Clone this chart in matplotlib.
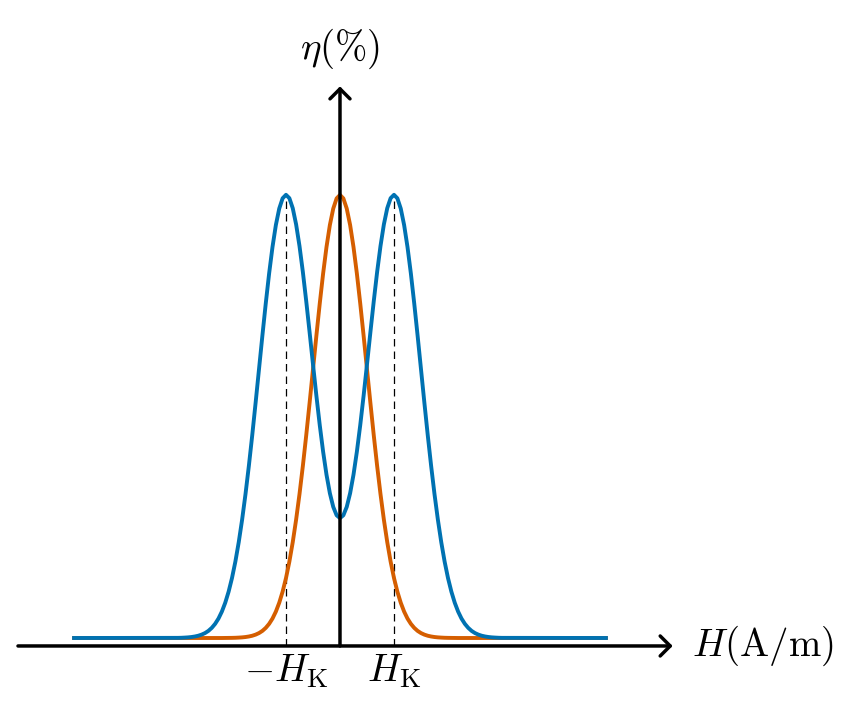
import matplotlib
matplotlib.use("Agg")
import matplotlib.pyplot as plt

plt.rcParams['mathtext.fontset'] = 'cm'

# H in units of H_K
h_values = [-4.96,
            -3.0, -2.9375, -2.875, -2.8125, -2.75, -2.6875, -2.625, -2.5625,
            -2.5, -2.4375, -2.375, -2.3125, -2.25, -2.1875, -2.125, -2.0625,
            -2.0, -1.9375, -1.875, -1.8125, -1.75, -1.6875, -1.625, -1.5625,
            -1.5, -1.4375, -1.375, -1.3125, -1.25, -1.1875, -1.125, -1.0625,
            -1.0, -0.9375, -0.875, -0.8125, -0.75, -0.6875, -0.625, -0.5625,
            -0.5, -0.4375, -0.375, -0.3125, -0.25, -0.1875, -0.125, -0.0625,
            0.0,
            0.0625, 0.125, 0.1875, 0.25, 0.3125, 0.375, 0.4375, 0.5,
            0.5625, 0.625, 0.6875, 0.75, 0.8125, 0.875, 0.9375, 1.0,
            1.0625, 1.125, 1.1875, 1.25, 1.3125, 1.375, 1.4375, 1.5,
            1.5625, 1.625, 1.6875, 1.75, 1.8125, 1.875, 1.9375, 2.0,
            2.0625, 2.125, 2.1875, 2.25, 2.3125, 2.375, 2.4375, 2.5,
            2.5625, 2.625, 2.6875, 2.75, 2.8125, 2.875, 2.9375, 3.0,
            4.96]

eta_split = [0.0,
             0.0003, 0.0005, 0.0009, 0.0014, 0.0022, 0.0034, 0.0051, 0.0076,
             0.0111, 0.0160, 0.0228, 0.0319, 0.0439, 0.0596, 0.0796, 0.1046,
             0.1353, 0.1724, 0.2163, 0.2671, 0.3247, 0.3886, 0.4578, 0.5311,
             0.6065, 0.6820, 0.7548, 0.8226, 0.8825, 0.9321, 0.9693, 0.9924,
             1.0003, 0.9927, 0.9701, 0.9335, 0.8847, 0.8260, 0.7599, 0.6896,
             0.6176, 0.5471, 0.4806, 0.4205, 0.3686, 0.3267, 0.2959, 0.2770,
             0.2706,
             0.2770, 0.2959, 0.3267, 0.3686, 0.4205, 0.4806, 0.5471, 0.6176,
             0.6896, 0.7599, 0.8260, 0.8847, 0.9335, 0.9701, 0.9927, 1.0003,
             0.9924, 0.9693, 0.9321, 0.8825, 0.8226, 0.7548, 0.6820, 0.6065,
             0.5311, 0.4578, 0.3886, 0.3247, 0.2671, 0.2163, 0.1724, 0.1353,
             0.1046, 0.0796, 0.0596, 0.0439, 0.0319, 0.0228, 0.0160, 0.0111,
             0.0076, 0.0051, 0.0034, 0.0022, 0.0014, 0.0009, 0.0005, 0.0003,
             0.0]

eta_single = [0.0,
              0.0, 0.0, 0.0, 0.0, 0.0, 0.0, 0.0, 0.0,
              0.0, 0.0, 0.0, 0.0, 0.0, 0.0, 0.0001, 0.0002,
              0.0003, 0.0005, 0.0009, 0.0014, 0.0022, 0.0034, 0.0051, 0.0076,
              0.0111, 0.0160, 0.0228, 0.0319, 0.0439, 0.0596, 0.0796, 0.1046,
              0.1353, 0.1724, 0.2163, 0.2671, 0.3247, 0.3886, 0.4578, 0.5311,
              0.6065, 0.6820, 0.7548, 0.8226, 0.8825, 0.9321, 0.9692, 0.9922,
              1.0,
              0.9922, 0.9692, 0.9321, 0.8825, 0.8226, 0.7548, 0.6820, 0.6065,
              0.5311, 0.4578, 0.3886, 0.3247, 0.2671, 0.2163, 0.1724, 0.1353,
              0.1046, 0.0796, 0.0596, 0.0439, 0.0319, 0.0228, 0.0160, 0.0111,
              0.0076, 0.0051, 0.0034, 0.0022, 0.0014, 0.0009, 0.0005, 0.0003,
              0.0002, 0.0001, 0.0, 0.0, 0.0, 0.0, 0.0, 0.0,
              0.0, 0.0, 0.0, 0.0, 0.0, 0.0, 0.0, 0.0,
              0.0]

tick_positions = [-1.0, 1.0]
tick_labels = [r'$-H_{\mathrm{K}}$', r'$H_{\mathrm{K}}$']
x_label = r'$H(\mathrm{A/m})$'
y_label = r'$\eta(\%)$'

fig = plt.figure(figsize=(8.65, 7.15), dpi=100)
ax = fig.add_axes([0, 0, 1, 1])
ax.set_xlim(-6.296, 9.722)
ax.set_ylim(-0.1738, 1.440)
ax.axis('off')

y_axis_level = -0.018

ax.plot(h_values, eta_single, color='#D55E00', lw=2.8, zorder=2,
        solid_capstyle='butt', solid_joinstyle='round')
ax.plot(h_values, eta_split, color='#0072B2', lw=2.8, zorder=3,
        solid_capstyle='butt', solid_joinstyle='round')

for xp in tick_positions:
    ax.plot([xp, xp], [y_axis_level, 1.0], color='black', lw=0.9,
            linestyle=(0, (6, 4)), zorder=1)

# axes arrows
arrow_style = '->, head_length=0.4, head_width=0.4'
ax.annotate('', xy=(6.16, y_axis_level), xytext=(-5.963, y_axis_level),
            arrowprops=dict(arrowstyle=arrow_style, lw=2.5, color='black',
                            mutation_scale=18, shrinkA=0, shrinkB=0), zorder=5)
ax.annotate('', xy=(0, 1.245), xytext=(0, y_axis_level),
            arrowprops=dict(arrowstyle=arrow_style, lw=2.5, color='black',
                            mutation_scale=18, shrinkA=0, shrinkB=0), zorder=5)

for xp, lab in zip(tick_positions, tick_labels):
    ax.text(xp, -0.0745, lab, ha='center', va='center', fontsize=28)

ax.text(6.52, y_axis_level, x_label, ha='left', va='center', fontsize=28)
ax.text(0, 1.33, y_label, ha='center', va='center', fontsize=28)

fig.savefig('out.png', dpi=100)
